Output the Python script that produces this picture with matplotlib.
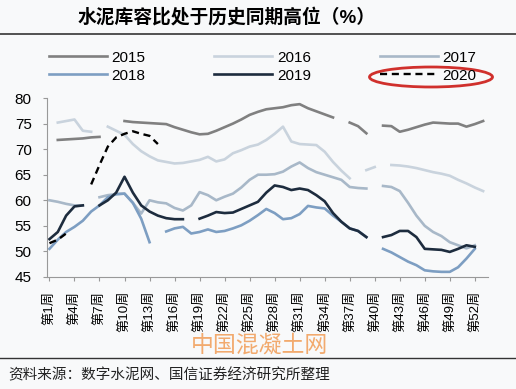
import numpy as np
import matplotlib
matplotlib.use("Agg")
import matplotlib.pyplot as plt
from matplotlib.patches import Ellipse
from matplotlib.lines import Line2D

plt.rcParams['font.family'] = ['Liberation Sans', 'Noto Sans CJK SC', 'DejaVu Sans']

nan = np.nan
weeks = np.arange(1, 54)

# weekly cement storage ratio (%); nan = no data
y2015 = [nan, 71.8, 71.9, 72.0, 72.1, 72.3, 72.4, nan, nan, 75.5,
         75.3, 75.2, 75.1, 75.0, 74.9, 74.3, 73.8, 73.3, 72.9, 73.0,
         73.6, 74.3, 75.0, 75.8, 76.7, 77.3, 77.8, 78.0, 78.2, 78.6,
         78.8, 78.0, 77.4, 76.8, 76.2, nan, 75.2, 74.5, 73.1, nan,
         74.6, 74.5, 73.4, 73.8, 74.3, 74.8, 75.2, 75.1, 75.0, 75.0,
         74.4, 74.9, 75.5]
y2016 = [nan, 75.2, 75.5, 75.8, 73.6, 73.4, nan, 74.4, 73.6, 72.8,
         71.0, 69.6, 68.6, 67.8, 67.5, 67.2, 67.3, 67.6, 67.9, 68.5,
         67.6, 68.0, 69.2, 69.8, 70.5, 70.9, 71.8, 73.0, 74.4, 71.5,
         71.0, 70.9, 70.8, 69.5, 67.5, 65.8, 64.3, nan, 65.9, 66.5,
         nan, 66.9, 66.8, 66.6, 66.3, 65.9, 65.5, 65.2, 64.8, 64.0,
         63.3, 62.5, 61.8]
y2017 = [60.0, 59.7, 59.3, 59.0, 59.0, nan, 60.6, 61.0, 61.2, 61.3,
         59.5, 57.4, 60.0, 59.6, 59.4, 58.5, 58.0, 59.0, 61.6, 61.0,
         60.0, 60.7, 61.3, 62.5, 64.0, 65.0, 65.0, 65.1, 65.6, 66.6,
         67.4, 66.3, 65.5, 65.0, 64.5, 64.0, 62.6, 62.4, 62.3, nan,
         62.8, 62.6, 61.8, 59.5, 57.0, 55.0, 53.8, 53.0, 51.8, 51.2,
         50.6, 51.2, nan]
y2018 = [50.5, 52.3, 53.8, 54.8, 56.0, 57.8, 59.0, 60.6, 61.2, 61.3,
         59.5, 56.4, 51.8, nan, 53.9, 54.5, 54.8, 53.5, 53.8, 54.3,
         53.8, 54.0, 54.5, 55.1, 56.0, 57.1, 58.3, 57.5, 56.3, 56.5,
         57.3, 58.9, 58.6, 58.4, 57.0, 55.8, 54.5, 54.0, 52.8, nan,
         50.5, 49.8, 48.9, 48.0, 47.3, 46.3, 46.1, 46.0, 46.0, 46.9,
         48.6, 50.5, nan]
y2019 = [52.4, 53.8, 57.0, 58.8, 59.0, nan, 59.0, 60.0, 61.5, 64.6,
         61.5, 59.0, 57.8, 57.0, 56.5, 56.3, 56.3, nan, 56.4, 57.0,
         57.7, 57.5, 57.6, 58.3, 59.0, 59.7, 61.5, 62.9, 62.6, 62.0,
         62.3, 62.0, 61.0, 59.8, 57.5, 55.8, 54.5, 54.0, 52.8, nan,
         52.8, 53.2, 54.0, 54.0, 52.8, 50.5, 50.4, 50.3, 49.9, 50.5,
         51.2, 50.9, nan]
y2020 = [51.6, 52.3, 53.5, nan, nan, 63.1, 66.9, 70.5, 72.3, 73.0,
         73.5, 73.0, 72.6, 71.0] + [nan] * 39

years = ["2015", "2016", "2017", "2018", "2019", "2020"]
colors = ["#808080", "#c9d3dd", "#a8b8c8", "#7d9ec2", "#1d2c3e", "#000000"]
series = [y2015, y2016, y2017, y2018, y2019, y2020]

tick_weeks = list(range(1, 53, 3))
tick_labels = ["第%d周" % w for w in tick_weeks]

bg = "#f8f9fa"
fig = plt.figure(figsize=(5.16, 3.89), dpi=100, facecolor=bg)
ax = fig.add_axes([0.091, 0.288, 0.855, 0.46], facecolor=bg)

handles = {}
for yr, c, vals in zip(years, colors, series):
    if yr == "2020":
        ln, = ax.plot(weeks, vals, color=c, lw=1.7, ls=(0, (3, 2)))
    else:
        ln, = ax.plot(weeks, vals, color=c, lw=1.9)
    handles[yr] = ln

ax.set_xlim(0.7, 53.6)
ax.set_ylim(45, 80)
ax.set_yticks(range(45, 81, 5))
ax.set_xticks(tick_weeks)
ax.set_xticklabels(tick_labels, rotation=90, va="top", ha="center", fontsize=9.5)
ax.tick_params(axis="y", labelsize=11, length=3, color="#999999", pad=8)
ax.tick_params(axis="x", length=3, color="#999999", pad=7)
for s in ["top", "right"]:
    ax.spines[s].set_visible(False)
for s in ["left", "bottom"]:
    ax.spines[s].set_color("#999999")

# legend: rows 2015-2017 / 2018-2020
order = ["2015", "2018", "2016", "2019", "2017", "2020"]
fig.legend([handles[k] for k in order], order, ncol=3, frameon=False,
           loc="upper left", bbox_to_anchor=(0.068, 0.905), fontsize=11,
           handlelength=3.8, handletextpad=0.3, columnspacing=4.5,
           labelspacing=0.25)
fig.patches.append(Ellipse((431 / 516, 1 - 77 / 389), 123 / 516, 20 / 389,
                           transform=fig.transFigure, fill=False,
                           edgecolor="#d0302c", lw=2))

fig.text(227 / 516, 1 - 17 / 389, "水泥库容比处于历史同期高位（%）",
         ha="center", va="center", fontsize=13.5, fontweight="bold")
fig.add_artist(Line2D([0, 1], [1 - 34 / 389] * 2, color="#444444", lw=1.3,
                      transform=fig.transFigure))
fig.add_artist(Line2D([0, 1], [1 - 358 / 389] * 2, color="#333333", lw=1.0,
                      transform=fig.transFigure))
fig.text(259 / 516, 1 - 345 / 389, "中国混凝土网", ha="center", va="center",
         fontsize=16.5, color="#f2aa6e")
fig.text(8 / 516, 1 - 375 / 389, "资料来源：数字水泥网、国信证券经济研究所整理",
         ha="left", va="center", fontsize=10.5, color="#222222")

fig.savefig("out.png", dpi=100, facecolor=bg)
